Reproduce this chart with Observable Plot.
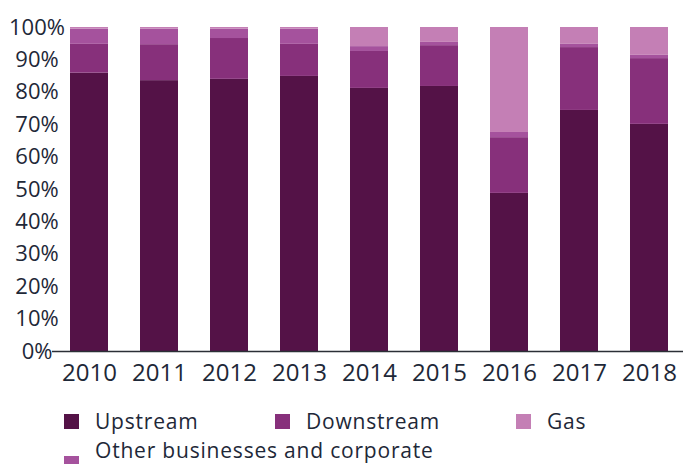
<!DOCTYPE html>
<html>
<head>
<meta charset="utf-8">
<script src="https://cdn.jsdelivr.net/npm/d3@7"></script>
<script src="https://cdn.jsdelivr.net/npm/@observablehq/plot@0.6"></script>
<style>
  html, body { margin: 0; padding: 0; background: #fff; }
  #wrap { position: relative; width: 683px; height: 464px; overflow: hidden; font-family: "Open Sans", sans-serif; color: #1e2838; }
  .sw { position: absolute; width: 15px; height: 15px; }
  .lt { position: absolute; font-size: 21px; line-height: 18px; letter-spacing: 0.8px; white-space: nowrap; }
</style>
</head>
<body>
<div id="wrap"></div>
<script>
const years = ["2010","2011","2012","2013","2014","2015","2016","2017","2018"];
const segments = ["Upstream","Downstream","Other businesses and corporate","Gas"];
const colors = ["#541247","#87307b","#a5529d","#c47fb5"];
const upstream   = [85.9, 83.6, 84.0, 84.9, 81.2, 81.8, 48.8, 74.4, 70.1];
const downstream = [ 8.9, 11.1, 12.6,  9.9, 11.4, 12.6, 17.2, 19.4, 20.3];
const other      = [ 4.7,  4.8,  2.9,  4.7,  1.5,  1.0,  1.6,  1.0,  1.0];
const gas        = [ 0.5,  0.5,  0.5,  0.5,  5.9,  4.6, 32.4,  5.2,  8.6];
const yTicks = [0,10,20,30,40,50,60,70,80,90,100];

const series = [upstream, downstream, other, gas];
const data = [];
years.forEach((yr, i) => {
  segments.forEach((s, j) => data.push({year: yr, segment: s, value: series[j][i]}));
});

const chart = Plot.plot({
  width: 683,
  height: 395,
  marginTop: 27,
  marginBottom: 44,
  marginLeft: 52,
  marginRight: 0,
  style: {fontFamily: "Open Sans, sans-serif", color: "#1e2838", background: "transparent"},
  x: {type: "band", domain: years, paddingInner: 0.459, paddingOuter: 0.2205, align: 0.55, label: null},
  y: {domain: [0, 100], label: null},
  color: {domain: segments, range: colors},
  marks: [
    Plot.barY(data, {x: "year", y: "value", fill: "segment", order: segments}),
    Plot.ruleY([0], {stroke: "#2b2f36", strokeWidth: 1.5}),
    Plot.axisX({tickSize: 0, tickPadding: 12, fontSize: 24, label: null}),
    Plot.axisY(yTicks, {tickSize: 0, tickPadding: 15.5, textAnchor: "middle", fontSize: 22, tickFormat: d => d + "%", label: null})
  ]
});
const wrap = document.getElementById("wrap");
wrap.appendChild(chart);

// legend layout: swatch x/y, text x/y
const legendPos = [
  {sx: 63.5, sy: 414, tx: 95,  ty: 411.5},
  {sx: 275,  sy: 414, tx: 306, ty: 411.5},
  {sx: 63.5, sy: 456, tx: 95,  ty: 440.5},
  {sx: 516,  sy: 414, tx: 547, ty: 411.5}
];
segments.forEach((s, j) => {
  const p = legendPos[j];
  const sw = document.createElement("div");
  sw.className = "sw";
  sw.style.left = p.sx + "px";
  sw.style.top = p.sy + "px";
  sw.style.background = colors[j];
  const t = document.createElement("div");
  t.className = "lt";
  t.style.left = p.tx + "px";
  t.style.top = p.ty + "px";
  t.textContent = s;
  wrap.appendChild(sw);
  wrap.appendChild(t);
});
</script>
</body>
</html>
